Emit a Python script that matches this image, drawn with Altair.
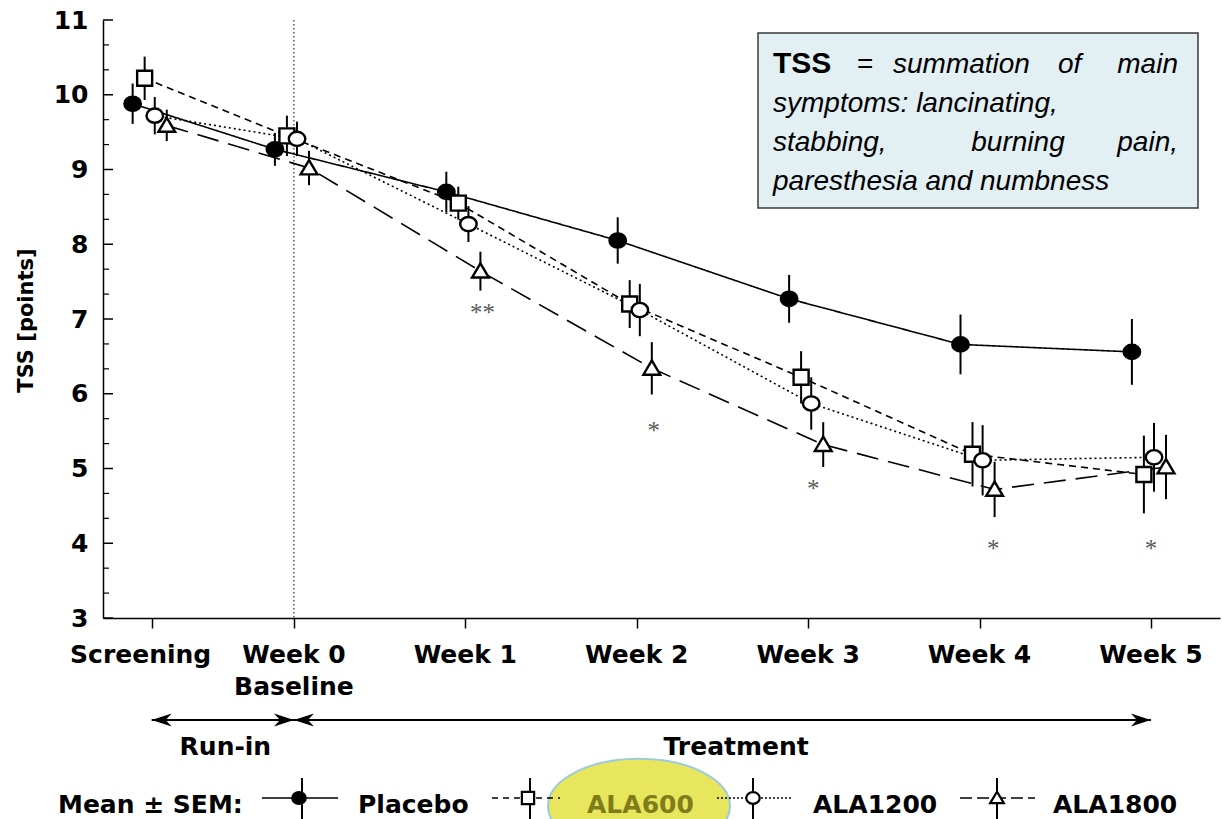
import altair as alt
import pandas as pd

# ---------------- data ----------------
visits = ["Screening", "Week 0", "Week 1", "Week 2", "Week 3", "Week 4", "Week 5"]
visit_labels = ["Screening", "Week 0\nBaseline", "Week 1", "Week 2", "Week 3", "Week 4", "Week 5"]
visit_week = [-0.83, 0, 1, 2, 3, 4, 5]

groups = ["Placebo", "ALA600", "ALA1200", "ALA1800"]

placebo_mean = [9.88, 9.27, 8.70, 8.05, 7.27, 6.66, 6.56]
placebo_sem = [0.27, 0.22, 0.27, 0.31, 0.32, 0.40, 0.44]
ala600_mean = [10.22, 9.45, 8.55, 7.20, 6.22, 5.19, 4.92]
ala600_sem = [0.29, 0.27, 0.22, 0.32, 0.35, 0.43, 0.52]
ala1200_mean = [9.72, 9.41, 8.27, 7.12, 5.87, 5.11, 5.15]
ala1200_sem = [0.25, 0.23, 0.24, 0.35, 0.35, 0.47, 0.46]
ala1800_mean = [9.59, 9.02, 7.64, 6.34, 5.32, 4.72, 5.02]
ala1800_sem = [0.21, 0.23, 0.26, 0.35, 0.30, 0.37, 0.43]

# significance marks versus placebo (ALA1800)
sig_labels = ["**", "*", "*", "*", "*"]
sig_week = [1.10, 2.10, 3.03, 4.08, 5.00]
sig_tss = [7.16, 5.58, 4.80, 4.00, 4.00]

phases = ["Run-in", "Treatment"]
phase_start = [-0.83, 0]
phase_end = [0, 5]
phase_label_week = [-0.40, 2.58]

y_ticks = list(range(3, 12))

box_words_1 = ["TSS", "=", "summation", "of", "main"]
box_line_2 = "symptoms: lancinating,"
box_words_3 = ["stabbing,", "burning", "pain,"]
box_line_4 = "paresthesia and numbness"

# ---------------- layout / style ----------------
PAD_L, PAD_T, PAD_R, PAD_B = 103, 20, 2, 201
W, H = 1117, 598
X_DOMAIN = [-1.114, 5.403]
Y_DOMAIN = [3, 11]
BOLD = "DejaVu Sans"

dodge = {"Placebo": -0.111, "ALA600": -0.041, "ALA1200": 0.018, "ALA1800": 0.088}
series_dash = {"Placebo": [1, 0], "ALA600": [7, 5], "ALA1200": [2, 3], "ALA1800": [22, 10]}
legend_dash = {"Placebo": [1, 0], "ALA600": [6, 5], "ALA1200": [2, 2], "ALA1800": [12, 5]}

ELLIPSE = "M-1.1,0A1.1,0.95 0 1,1 1.1,0A1.1,0.95 0 1,1 -1.1,0Z"
SQUARE = "M-1,-1H1V1H-1Z"
TRIANGLE = "M0,-1.05L1.12,0.85L-1.12,0.85Z"
shapes = {"Placebo": ELLIPSE, "ALA600": SQUARE, "ALA1200": ELLIPSE, "ALA1800": TRIANGLE}
fills = {"Placebo": "black", "ALA600": "white", "ALA1200": "white", "ALA1800": "white"}

ARROW_R = "M0,0L-1,-0.32L-0.7,0L-1,0.32Z"
ARROW_L = "M0,0L1,-0.32L0.7,0L1,0.32Z"
HIGHLIGHT = "M-1,0A1,0.52 0 1,0 1,0A1,0.52 0 1,0 -1,0Z"

# ---------------- tables ----------------
means = [placebo_mean, ala600_mean, ala1200_mean, ala1800_mean]
sems = [placebo_sem, ala600_sem, ala1200_sem, ala1800_sem]
rows = []
for g, m_list, s_list in zip(groups, means, sems):
    for v, w, m, s in zip(visits, visit_week, m_list, s_list):
        rows.append(dict(group=g, visit=v, week=w, x=w + dodge[g],
                         mean=m, lo=m - s, hi=m + s))
df = pd.DataFrame(rows)

vis_df = pd.DataFrame({"visit": visits, "label": visit_labels, "week": visit_week})
sig_df = pd.DataFrame({"week": sig_week, "tss": sig_tss, "label": sig_labels})
phase_df = pd.DataFrame({"phase": phases, "start": phase_start, "end": phase_end,
                         "mid": phase_label_week})
major_df = pd.DataFrame({"t": y_ticks})
minor_df = pd.DataFrame({"t": [3 + k / 3 for k in range(25) if k % 3 != 0]})
one = pd.DataFrame({"k": [0]})

xs = alt.Scale(domain=X_DOMAIN, nice=False, zero=False)
ys = alt.Scale(domain=Y_DOMAIN, nice=False, zero=False)

# the same axis definitions are attached to every layer that uses the shared scales
x_axis = alt.Axis(values=visit_week, labels=False, ticks=True, tickSize=10,
                  tickWidth=1.5, tickColor="black", domainColor="black",
                  domainWidth=1.5, grid=False, title=None)
y_axis = alt.Axis(values=y_ticks, ticks=False, grid=False, labelFont=BOLD,
                  labelFontWeight="bold", labelFontSize=25, labelColor="black",
                  labelPadding=15, labelFlush=False, domainColor="black",
                  domainWidth=1.5, title="TSS [points]", titleFont=BOLD,
                  titleFontWeight="bold", titleFontSize=21, titleColor="black",
                  titleX=-77, titleY=300, titleBaseline="middle")


def XQ(field):
    return alt.X(field, scale=xs, axis=x_axis)


def YQ(field):
    return alt.Y(field, scale=ys, axis=y_axis)


def px(v):
    return alt.value(v - PAD_L)


def py(v):
    return alt.value(v - PAD_T)


# ---------------- plot layers ----------------
baseline_rule = alt.Chart(pd.DataFrame({"w": [0]})).mark_rule(
    color="#333333", strokeWidth=1.2, strokeDash=[1.5, 2.5]
).encode(x=XQ("w:Q"))

lines = alt.Chart(df).mark_line(color="black", strokeWidth=1.6).encode(
    x=XQ("x:Q"),
    y=YQ("mean:Q"),
    strokeDash=alt.StrokeDash("group:N", legend=None,
                              scale=alt.Scale(domain=groups,
                                              range=[series_dash[g] for g in groups])),
    order="week:Q",
)

errbars = alt.Chart(df).mark_rule(color="black", strokeWidth=2).encode(
    x=XQ("x:Q"), y=YQ("lo:Q"), y2="hi:Q"
)

markers = alt.Chart(df).mark_point(filled=True, stroke="black", strokeWidth=2.4,
                                   size=225, opacity=1).encode(
    x=XQ("x:Q"), y=YQ("mean:Q"),
    shape=alt.Shape("group:N", legend=None,
                    scale=alt.Scale(domain=groups, range=[shapes[g] for g in groups])),
    fill=alt.Fill("group:N", legend=None,
                  scale=alt.Scale(domain=groups, range=[fills[g] for g in groups])),
)

major_ticks = alt.Chart(major_df).mark_rule(color="black", strokeWidth=1.5).encode(
    y=YQ("t:Q"), x=alt.value(0), x2=alt.value(10)
)
minor_ticks = alt.Chart(minor_df).mark_rule(color="black", strokeWidth=1.2).encode(
    y=YQ("t:Q"), x=alt.value(0), x2=alt.value(6)
)

xlab_kw = dict(font=BOLD, fontWeight="bold", fontSize=25, color="black",
               baseline="alphabetic", lineBreak="\n", lineHeight=32)
xlabels = alt.Chart(vis_df).transform_filter("datum.visit != 'Screening'").mark_text(
    **xlab_kw).encode(x=XQ("week:Q"), y=py(663), text="label:N")
xlabel_scr = alt.Chart(vis_df).transform_filter("datum.visit == 'Screening'").mark_text(
    dx=-11, **xlab_kw).encode(x=XQ("week:Q"), y=py(663), text="label:N")

stars = alt.Chart(sig_df).mark_text(font="Liberation Serif", fontSize=25,
                                    color="#5a5a5a", baseline="middle", dy=6).encode(
    x=XQ("week:Q"), y=YQ("tss:Q"), text="label:N")

# study phases below the axis
phase_rules = alt.Chart(phase_df).mark_rule(color="black", strokeWidth=1.8).encode(
    x=XQ("start:Q"), x2="end:Q", y=py(720))
heads_l = alt.Chart(phase_df).mark_point(shape=ARROW_L, size=1600, filled=True,
                                         color="black", opacity=1).encode(
    x=XQ("start:Q"), y=py(720))
heads_r = alt.Chart(phase_df).mark_point(shape=ARROW_R, size=1600, filled=True,
                                         color="black", opacity=1).encode(
    x=XQ("end:Q"), y=py(720))
phase_text = alt.Chart(phase_df).mark_text(font=BOLD, fontWeight="bold", fontSize=25,
                                           color="black", baseline="alphabetic").encode(
    x=XQ("mid:Q"), y=py(755), text="phase:N")

# definition box
box = alt.Chart(one).mark_rect(fill="#e2eff3", stroke="#3a3a3a", strokeWidth=1.5).encode(
    x=px(758), x2=px(1198), y=py(33), y2=py(208))


def txt(s, x, y, align="left", weight="normal", style="italic", size=28,
        font="Liberation Sans", color="black"):
    return alt.Chart(one).mark_text(text=s, align=align, baseline="alphabetic",
                                    font=font, fontSize=size, fontWeight=weight,
                                    fontStyle=style, color=color).encode(x=px(x), y=py(y))


box_text = [
    txt(box_words_1[0], 773, 73, weight="bold", style="normal", size=30),
    txt(box_words_1[1], 857, 73, style="normal"),
    txt(box_words_1[2], 893, 73),
    txt(box_words_1[3], 1058, 73),
    txt(box_words_1[4], 1178, 73, align="right"),
    txt(box_line_2, 773, 112),
    txt(box_words_3[0], 773, 151),
    txt(box_words_3[1], 1018, 151, align="center"),
    txt(box_words_3[2], 1178, 151, align="right"),
    txt(box_line_4, 773, 190),
]

# legend row
LEG_Y, LEG_BASE = 798, 813
legend_layout = {
    "Placebo": dict(x0=262, x1=338, m=299, bar=302, label=358),
    "ALA600": dict(x0=492, x1=560, m=528, bar=530, label=587),
    "ALA1200": dict(x0=717, x1=793, m=753, bar=753, label=813),
    "ALA1800": dict(x0=960, x1=1035, m=997, bar=997, label=1053),
}
legend_layers = [
    alt.Chart(one).mark_point(shape=HIGHLIGHT, size=33124, filled=True,
                              fill="#e8e65c", stroke="#9ccbe0", strokeWidth=2,
                              opacity=1).encode(x=px(639), y=py(806)),
    txt("Mean ± SEM:", 58, LEG_BASE, weight="bold", style="normal", size=25, font=BOLD),
]
for g in groups:
    lay = legend_layout[g]
    legend_layers += [
        alt.Chart(one).mark_rule(color="black", strokeWidth=1.5,
                                 strokeDash=legend_dash[g]).encode(
            x=px(lay["x0"]), x2=px(lay["x1"]), y=py(LEG_Y)),
        alt.Chart(one).mark_rule(color="black", strokeWidth=2).encode(
            x=px(lay["bar"]), y=py(778), y2=py(822)),
        alt.Chart(one).mark_point(shape=shapes[g], size=150, filled=True, fill=fills[g],
                                  stroke="black", strokeWidth=2.2, opacity=1).encode(
            x=px(lay["m"]), y=py(LEG_Y)),
        txt(g, lay["label"], LEG_BASE, weight="bold", style="normal", size=25, font=BOLD,
            color="#7f7d19" if g == "ALA600" else "black"),
    ]

chart = alt.layer(
    baseline_rule, lines, errbars, markers, major_ticks, minor_ticks,
    xlabels, xlabel_scr, stars, phase_rules, heads_l, heads_r, phase_text,
    box, *box_text, *legend_layers,
).properties(
    width=W, height=H, autosize="none",
    padding={"left": PAD_L, "top": PAD_T, "right": PAD_R, "bottom": PAD_B},
    background="white",
).configure_view(stroke=None)

chart.save("out.html", embed_options={"renderer": "svg", "actions": False})
